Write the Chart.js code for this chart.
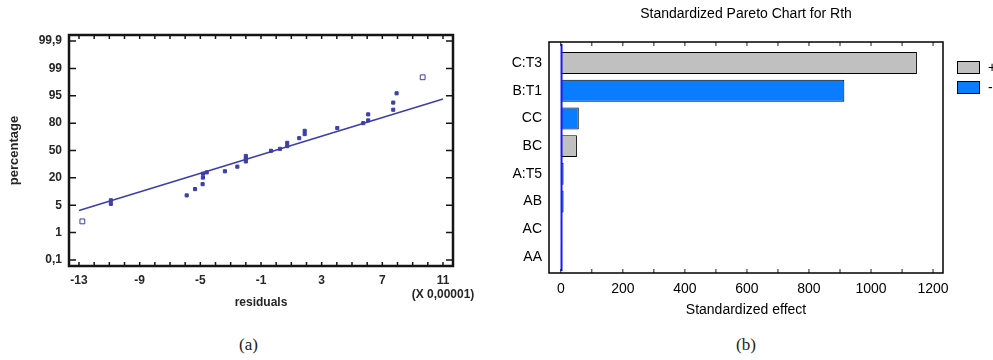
<!DOCTYPE html>
<html>
<head>
<meta charset="utf-8">
<script src="https://cdn.jsdelivr.net/npm/chart.js@4.4.1/dist/chart.umd.min.js"></script>
<style>
  html, body { margin: 0; padding: 0; background: #fff; overflow: hidden; }
  #caixaA { position: absolute; left: 0; top: 0; width: 490px; height: 320px; }
  #caixaB { position: absolute; left: 490px; top: 0; width: 503px; height: 330px; }
  .legenda { position: absolute; top: 335px; font-family: "Liberation Serif", serif; font-size: 17px; color: #222; }
</style>
</head>
<body>
<div id="caixaA"><canvas id="graficoA"></canvas></div>
<div id="caixaB"><canvas id="graficoB"></canvas></div>
<div class="legenda" style="left:239px">(a)</div>
<div class="legenda" style="left:736px">(b)</div>
<script>
// (a) grafico de probabilidade normal dos residuos
const residuos = [-12.78, -10.9, -10.9, -5.9, -5.35, -4.85, -4.83, -4.83, -4.58, -3.38, -2.56,
  -2.0, -2.0, -2.0, -0.34, 0.25, 0.73, 0.73, 1.52, 1.88, 1.88, 4.03, 5.74, 6.07, 6.07,
  7.72, 7.72, 7.94, 9.66];
const percentuais = [2.64, 5.75, 7.7, 10.4, 13.85, 16.55, 20.3, 24.5, 26, 27.2, 32.3,
  38, 41, 44, 49.7, 51.8, 54.8, 58.4, 63.5, 68, 71.6, 74.6, 80, 81.5, 84.8,
  87.35, 91.25, 95.36, 97.7];
const retaX = [-13, 11];
const retaPct = [4.24, 93.2];
const ticksX = [-13, -9, -5, -1, 3, 7, 11];
const ticksProb = [0.1, 1, 5, 20, 50, 80, 95, 99, 99.9];
const rotulosProb = ['0,1', '1', '5', '20', '50', '80', '95', '99', '99,9'];

// (b) pareto dos efeitos padronizados
const efeitos = ['C:T3', 'B:T1', 'CC', 'BC', 'A:T5', 'AB', 'AC', 'AA'];
const valoresEfeito = [1148, 914, 58, 52, 9, 9, 3, 3];
const sinais = ['+', '-', '-', '+', '-', '-', '-', '-'];
const ticksEfeito = [0, 200, 400, 600, 800, 1000, 1200];
const limiteCritico = 2.4;

const corPontos = '#3c3fa8';
const corTextoA = '#262626';

// converte percentual para a posicao no eixo (ticks igualmente espacados)
function posProb(p) {
  for (let i = 0; i < ticksProb.length - 1; i++) {
    if (p <= ticksProb[i + 1]) {
      return i + (p - ticksProb[i]) / (ticksProb[i + 1] - ticksProb[i]);
    }
  }
  return ticksProb.length - 1;
}

function moldura(chart, largura, cor, marcasX, marcasY, tamX, tamY) {
  const ctx = chart.ctx;
  const a = chart.chartArea;
  const sx = chart.scales.x, sy = chart.scales.y;
  ctx.save();
  ctx.strokeStyle = cor;
  ctx.lineWidth = largura * 0.6;
  ctx.beginPath();
  marcasX.forEach(v => {
    const px = sx.getPixelForValue(v);
    ctx.moveTo(px, a.top); ctx.lineTo(px, a.top + tamX);
    ctx.moveTo(px, a.bottom); ctx.lineTo(px, a.bottom - tamX);
  });
  marcasY.forEach(v => {
    const py = sy.getPixelForValue(v);
    ctx.moveTo(a.left, py); ctx.lineTo(a.left + tamY, py);
    ctx.moveTo(a.right, py); ctx.lineTo(a.right - tamY, py);
  });
  ctx.stroke();
  ctx.lineWidth = largura;
  ctx.strokeRect(a.left, a.top, a.right - a.left, a.bottom - a.top);
  ctx.restore();
}

const molduraA = {
  id: 'molduraA',
  afterDraw(chart) {
    let menores = [];
    for (let v = ticksX[0]; v <= ticksX[ticksX.length - 1]; v++) menores.push(v);
    moldura(chart, 2.5, '#151515', menores, ticksProb.map((t, i) => i), 4, 7);
  }
};

const molduraB = {
  id: 'molduraB',
  afterDraw(chart) {
    let menores = [];
    for (let v = ticksEfeito[0]; v <= ticksEfeito[ticksEfeito.length - 1]; v += 100) menores.push(v);
    moldura(chart, 1.5, '#000', menores, [], 4, 0);

    // legenda + / -
    const ctx = chart.ctx;
    const a = chart.chartArea;
    const itens = [['+', '#c0c0c0'], ['-', '#0a7cff']];
    ctx.save();
    ctx.font = '14px "Liberation Sans", Arial, sans-serif';
    ctx.textBaseline = 'middle';
    itens.forEach((it, i) => {
      const x = a.right + 14, y = a.top + 19 + i * 20;
      ctx.fillStyle = it[1];
      ctx.fillRect(x, y, 23, 13);
      ctx.strokeStyle = '#000';
      ctx.lineWidth = 1;
      ctx.strokeRect(x + 0.5, y + 0.5, 22, 12);
      ctx.fillStyle = '#000';
      ctx.fillText(it[0], x + 31, y + 7);
    });
    ctx.restore();
  },
  afterDatasetsDraw(chart) {
    const ctx = chart.ctx;
    const a = chart.chartArea;
    const px = chart.scales.x.getPixelForValue(limiteCritico);
    ctx.save();
    ctx.strokeStyle = '#1a1aff';
    ctx.lineWidth = 2;
    ctx.beginPath();
    ctx.moveTo(px, a.top + 2);
    ctx.lineTo(px, a.bottom - 2);
    ctx.stroke();
    ctx.restore();
  }
};

const fonteA = { family: '"Liberation Sans", Arial, sans-serif', size: 12, weight: 'bold' };

const graficoA = new Chart(document.getElementById('graficoA'), {
  type: 'scatter',
  data: {
    datasets: [{
      label: 'residuos',
      data: residuos.map((x, i) => ({ x: x, y: posProb(percentuais[i]) })),
      pointStyle: 'rect',
      pointRadius: ctx => (ctx.dataIndex === 0 || ctx.dataIndex === residuos.length - 1) ? 3.4 : 2.2,
      pointBackgroundColor: ctx => (ctx.dataIndex === 0 || ctx.dataIndex === residuos.length - 1) ? '#fff' : corPontos,
      pointBorderColor: corPontos,
      pointBorderWidth: 1,
      showLine: false
    }, {
      type: 'line',
      label: 'reta',
      data: retaX.map((x, i) => ({ x: x, y: posProb(retaPct[i]) })),
      borderColor: corPontos,
      borderWidth: 1.6,
      pointRadius: 0,
      fill: false
    }]
  },
  options: {
    responsive: true,
    maintainAspectRatio: false,
    animation: false,
    layout: { padding: { top: 35, right: 37, left: 0, bottom: 0 } },
    plugins: { legend: { display: false }, tooltip: { enabled: false } },
    scales: {
      x: {
        type: 'linear',
        min: -13.66,
        max: 11.66,
        afterBuildTicks: s => { s.ticks = ticksX.map(v => ({ value: v })); },
        afterFit: s => { s.height = 54; },
        grid: { display: false, drawTicks: false },
        border: { display: false },
        ticks: {
          autoSkip: false,
          maxRotation: 0,
          padding: 7,
          color: corTextoA,
          font: fonteA,
          callback: v => v === ticksX[ticksX.length - 1] ? [String(v), '(X 0,00001)'] : String(v)
        },
        title: { display: true, text: 'residuals', color: corTextoA, font: fonteA, padding: { top: 0, bottom: 10 } }
      },
      y: {
        type: 'linear',
        min: -0.22,
        max: 8.22,
        afterBuildTicks: s => { s.ticks = ticksProb.map((t, i) => ({ value: i })); },
        afterFit: s => { s.width = 69; },
        grid: { display: false, drawTicks: false },
        border: { display: false },
        ticks: {
          autoSkip: false,
          padding: 7,
          color: corTextoA,
          font: fonteA,
          callback: v => rotulosProb[Math.round(v)]
        },
        title: { display: true, text: 'percentage', color: corTextoA, font: { family: fonteA.family, size: 13, weight: 'bold' }, padding: { top: 7, bottom: 0 } }
      }
    }
  },
  plugins: [molduraA]
});

const fonteB = { family: '"Liberation Sans", Arial, sans-serif', size: 14 };

const graficoB = new Chart(document.getElementById('graficoB'), {
  type: 'bar',
  data: {
    datasets: [{
      label: 'Standardized effect',
      data: valoresEfeito.map((v, i) => ({ x: v, y: i })),
      backgroundColor: sinais.map(s => s === '+' ? '#c0c0c0' : '#0a7cff'),
      borderColor: '#000',
      borderWidth: 1,
      borderSkipped: false,
      categoryPercentage: 1,
      barPercentage: 0.79
    }]
  },
  options: {
    indexAxis: 'y',
    responsive: true,
    maintainAspectRatio: false,
    animation: false,
    layout: { padding: { top: 0, right: 50, left: 0, bottom: 0 } },
    plugins: {
      legend: { display: false },
      tooltip: { enabled: false },
      title: {
        display: true,
        fullSize: false,
        text: 'Standardized Pareto Chart for Rth',
        color: '#000',
        font: { family: fonteB.family, size: 14, weight: 'normal' },
        padding: { top: 5.6, bottom: 19.6 }
      }
    },
    scales: {
      x: {
        type: 'linear',
        min: -38,
        max: 1232,
        afterBuildTicks: s => { s.ticks = ticksEfeito.map(v => ({ value: v })); },
        afterFit: s => { s.height = 57; },
        grid: { display: false, drawTicks: false },
        border: { display: false },
        ticks: { autoSkip: false, maxRotation: 0, padding: 8, color: '#000', font: fonteB, callback: v => String(v) },
        title: { display: true, text: 'Standardized effect', color: '#000', font: fonteB, padding: { top: 0, bottom: 11.6 } }
      },
      y: {
        type: 'linear',
        offset: false,
        reverse: true,
        min: -0.76,
        max: 7.58,
        afterBuildTicks: s => { s.ticks = efeitos.map((e, i) => ({ value: i })); },
        afterFit: s => { s.width = 59; },
        grid: { display: false, drawTicks: false, offset: false },
        border: { display: false },
        ticks: { autoSkip: false, padding: 7, color: '#000', font: fonteB, callback: v => efeitos[Math.round(v)] }
      }
    }
  },
  plugins: [molduraB]
});
</script>
</body>
</html>
